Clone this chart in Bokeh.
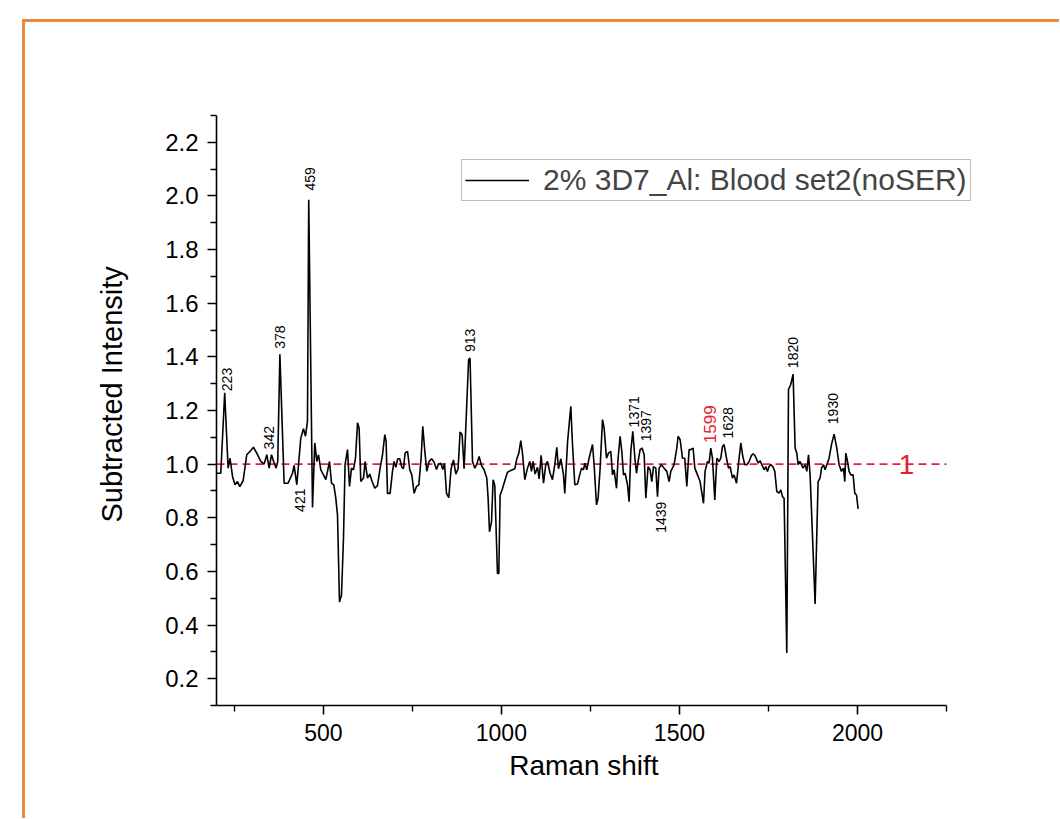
from bokeh.plotting import figure
from bokeh.models import (Legend, LegendItem, Label, FixedTicker,
                          PrintfTickFormatter, ColumnDataSource, Range1d)
from bokeh.layouts import column
from bokeh.embed import file_html
from bokeh.resources import INLINE
from bokeh.core.properties import value
import math

# ---------------- data ----------------
raman_shift = [200, 212, 223, 232.6, 238, 245, 252, 259, 265.4, 274.7, 285, 294.4, 303.9,
               313, 324.4, 333.7, 341.3, 347.8, 354.4, 361.8, 367.4, 372, 378, 389.9, 401,
               413.4, 418, 425.5, 436.7, 444.3, 449.9, 455.5, 459, 469.6, 476, 481.7, 486.4,
               492.9, 500.5, 507, 512.6, 517.3, 523, 529.4, 535, 539.8, 545.4, 551, 556.6,
               561, 567.9, 573.5, 579.1, 584.7, 590.3, 596, 600.5, 605.2, 612.8, 617.3, 624,
               630.5, 637, 644.5, 652, 659.5, 666.2, 672.6, 676.3, 680.2, 687.5, 694.2, 698.7,
               703.5, 709, 714.7, 720.4, 725, 729.6, 736.4, 742.8, 748.5, 755, 761.6, 768.2,
               774.6, 779.3, 785, 790.6, 797, 803.8, 811, 817.8, 823.4, 830, 835.5, 840.3,
               845.9, 852.3, 858.8, 865.5, 872, 878.5, 884, 889.7, 895.3, 908, 912, 918.9,
               925.4, 931, 937.4, 944.2, 951.5, 959, 962.8, 966.6, 972.3, 976.8, 981.5, 986.3,
               989, 992.8, 996.5, 1003, 1010.5, 1017, 1024.5, 1031, 1037.7, 1043.3, 1049,
               1054.5, 1059.3, 1065.8, 1073.3, 1079.8, 1084.6, 1089, 1094.7, 1101.4, 1106,
               1111.6, 1118.3, 1124.7, 1129.5, 1136.8, 1143.5, 1150, 1155.6, 1160.4, 1166.9,
               1174.4, 1178, 1186, 1195, 1199.7, 1206.2, 1213.8, 1220, 1225, 1230.6, 1234.3,
               1239.9, 1246.3, 1255.9, 1260.4, 1267.1, 1271.6, 1277.3, 1284, 1288.5, 1295.2,
               1300.8, 1307.3, 1312, 1316.5, 1323.3, 1327.8, 1333.4, 1338.2, 1342.9, 1347.5,
               1354.2, 1358.7, 1363.5, 1369, 1375, 1379.5, 1384, 1389.6, 1395, 1401, 1405.6,
               1412, 1417.6, 1422.4, 1427.2, 1433.6, 1438.4, 1443, 1449.6, 1457, 1464.5, 1471,
               1475.8, 1485, 1492.6, 1496.3, 1502, 1508.6, 1515, 1520.7, 1527.2, 1532, 1538.4,
               1543.2, 1550.8, 1558, 1567.6, 1572, 1578.8, 1583.3, 1588, 1592.8, 1599.3, 1605,
               1611.4, 1616.2, 1621, 1625.5, 1632.2, 1637.8, 1642.3, 1649, 1653.6, 1660.3,
               1667.6, 1672.4, 1678, 1683.6, 1689.2, 1695.7, 1702.4, 1707, 1711.7, 1717.3, 1721,
               1726.5, 1731.3, 1737.8, 1742.5, 1747.3, 1751.8, 1756.6, 1762.2, 1767.8, 1773.4,
               1779.9, 1784.6, 1789.4, 1793.9, 1801.5, 1806.3, 1812.7, 1819.2, 1824.9, 1829.6,
               1833.3, 1838, 1842.8, 1847.3, 1853, 1857.7, 1862.5, 1867, 1881, 1889.4, 1895,
               1899, 1904.6, 1909, 1913.9, 1920.3, 1927, 1934.4, 1941.9, 1948.4, 1955, 1960.7,
               1964.4, 1967.2, 1972, 1976.5, 1981.3, 1987.7, 1992.5, 1997.3, 2001.8]
intensity = [0.966, 0.966, 1.266, 0.985, 1.022, 0.954, 0.923, 0.935, 0.916, 0.938, 1.035, 1.048,
             1.063, 1.041, 1.010, 1.000, 1.035, 0.985, 1.035, 1.004, 0.985, 1.010, 1.410, 0.929,
             0.929, 0.966, 0.995, 0.923, 1.097, 1.132, 1.104, 1.160, 1.986, 0.838, 1.079, 1.010,
             1.035, 0.979, 0.960, 0.942, 0.979, 1.010, 0.929, 0.923, 0.873, 0.810, 0.486, 0.511,
             0.723, 0.998, 1.054, 0.917, 0.985, 0.979, 1.022, 1.154, 1.135, 0.935, 0.948, 1.010,
             0.948, 0.963, 0.935, 0.910, 0.920, 0.985, 1.035, 1.110, 1.085, 0.891, 0.891, 0.973,
             1.010, 0.988, 1.020, 1.020, 0.988, 0.983, 1.041, 1.048, 0.979, 0.960, 0.891, 0.917,
             0.923, 1.022, 1.141, 1.048, 0.973, 1.010, 1.020, 1.008, 0.980, 1.000, 1.003, 0.980,
             1.003, 0.891, 0.875, 0.983, 1.016, 0.963, 0.983, 1.120, 1.110, 0.983, 1.390, 1.395,
             1.010, 0.985, 1.000, 1.029, 0.995, 0.979, 0.948, 0.873, 0.748, 0.785, 0.942, 0.920,
             0.710, 0.592, 0.592, 0.885, 0.908, 0.942, 0.970, 0.975, 0.979, 0.983, 1.020, 1.041,
             1.088, 1.041, 0.942, 0.985, 1.010, 0.973, 1.010, 0.963, 0.988, 0.945, 1.033, 0.929,
             0.998, 1.010, 0.966, 0.942, 0.998, 1.063, 0.983, 1.020, 0.960, 0.891, 1.085, 1.216,
             1.073, 0.923, 0.926, 0.960, 0.985, 0.979, 1.004, 0.979, 1.022, 1.073, 0.998, 0.848,
             0.873, 0.985, 1.166, 1.135, 1.022, 1.041, 1.048, 0.960, 0.979, 0.910, 1.022, 1.104,
             1.048, 0.960, 0.966, 0.923, 0.860, 1.048, 1.122, 1.022, 0.966, 1.010, 1.054, 1.060,
             1.035, 0.873, 0.991, 0.979, 0.935, 0.991, 0.985, 0.879, 0.985, 0.998, 0.985, 0.973,
             0.935, 0.973, 0.998, 1.060, 1.104, 1.091, 1.022, 1.022, 0.917, 1.054, 1.054, 1.060,
             0.985, 0.960, 0.935, 0.854, 0.973, 1.010, 1.004, 1.060, 1.022, 0.866, 1.022, 1.010,
             1.022, 1.066, 1.073, 1.022, 0.985, 0.991, 0.948, 0.960, 0.929, 1.022, 1.079, 1.029,
             0.998, 0.998, 1.010, 1.033, 1.038, 1.033, 1.016, 1.004, 1.013, 0.998, 0.979, 0.991,
             0.973, 0.991, 0.998, 0.991, 0.973, 0.898, 0.892, 0.904, 0.879, 0.873, 0.296, 1.279,
             1.297, 1.335, 1.060, 1.041, 0.998, 1.010, 0.998, 0.985, 0.998, 0.973, 1.035, 0.960,
             0.479, 0.935, 0.948, 0.985, 0.998, 0.979, 0.998, 1.022, 1.073, 1.112, 1.060, 0.998,
             0.973, 0.985, 0.935, 1.041, 1.010, 0.973, 0.960, 0.960, 0.891, 0.885, 0.833]

series_name = "2% 3D7_Al: Blood set2(noSER)"
reference_level = 1.0
x_axis_limits = [200, 2250]
y_axis_limits = [0.1, 2.3]

# peak annotations (text, x position, y where text starts)
above_labels = ["223", "342", "378", "459", "913", "1371", "1397", "1628", "1820", "1930"]
above_x = [230.3, 346.9, 377.8, 462.0, 912.7, 1372.0, 1405.6, 1637.0, 1818.3, 1932.0]
above_y = [1.272, 1.055, 1.430, 2.020, 1.418, 1.137, 1.085, 1.096, 1.358, 1.149]
below_labels = ["421", "1439"]
below_x = [435.3, 1449.0]
below_y = [0.909, 0.860]
red_label = ["1599"]
red_x = [1586.7]
red_y = [1.078]
level_label = "1"
level_label_x = 2138

x_major = [500, 1000, 1500, 2000]
x_minor = [250, 750, 1250, 1750, 2250]
y_major = [0.2, 0.4, 0.6, 0.8, 1.0, 1.2, 1.4, 1.6, 1.8, 2.0, 2.2]
y_minor = [0.1, 0.3, 0.5, 0.7, 0.9, 1.1, 1.3, 1.5, 1.7, 1.9, 2.1, 2.3]

# ---------------- figure ----------------
FONT = "Liberation Sans"
RED = "#E8202C"

W, H = 1034, 796
BL, BR, BT, BB = 191, 77, 93, 113
frame_w = W - BL - BR
axis_px = 730.0                       # pixels covered by the x axis
x_end = x_axis_limits[0] + frame_w * (x_axis_limits[1] - x_axis_limits[0]) / axis_px

p = figure(width=W, height=H, output_backend="svg", toolbar_location=None,
           x_range=Range1d(x_axis_limits[0], x_end),
           y_range=Range1d(*y_axis_limits),
           min_border_left=BL, min_border_right=BR, min_border_top=BT,
           min_border_bottom=BB)
p.outline_line_color = None
p.xgrid.visible = False
p.ygrid.visible = False
p.background_fill_color = "white"
p.border_fill_color = "white"

for ax in (p.xaxis[0], p.yaxis[0]):
    ax.axis_line_width = 1.6
    ax.major_tick_line_width = 1.6
    ax.minor_tick_line_width = 1.4
    ax.major_tick_in = 0
    ax.major_tick_out = 9
    ax.minor_tick_in = 0
    ax.minor_tick_out = 6
    ax.major_label_text_color = "black"
    ax.axis_label_text_color = "black"
    ax.axis_label_text_font_style = "normal"

p.xaxis.bounds = tuple(x_axis_limits)
p.xaxis.ticker = FixedTicker(ticks=x_major, minor_ticks=x_minor)
p.yaxis.ticker = FixedTicker(ticks=y_major, minor_ticks=y_minor)
p.yaxis.formatter = PrintfTickFormatter(format="%.1f")

NB = "\u00a0"
p.xaxis.axis_label = "Raman shift" + NB * 4
p.xaxis.axis_label_text_font = FONT
p.xaxis.axis_label_text_font_size = "28px"
p.xaxis.major_label_text_font = FONT
p.xaxis.major_label_text_font_size = "23px"
p.xaxis.major_label_standoff = 9
p.xaxis.axis_label_standoff = 6

p.yaxis.axis_label = NB * 4 + "Subtracted Intensity"
p.yaxis.axis_label_text_font = FONT
p.yaxis.axis_label_text_font_size = "29px"
p.yaxis.major_label_text_font = FONT
p.yaxis.major_label_text_font_size = "24px"
p.yaxis.major_label_standoff = 9
p.yaxis.axis_label_standoff = 34

# reference dashed line at 1 (spans the x axis)
p.segment(x0=[x_axis_limits[0]], x1=[x_axis_limits[1]],
          y0=[reference_level], y1=[reference_level],
          line_color=RED, line_dash="8 5", line_width=1.6)

src = ColumnDataSource(data=dict(x=raman_shift, y=intensity))
r = p.line("x", "y", source=src, line_color="black", line_width=1.6)

# annotations
p.text(x=above_x, y=above_y, text=above_labels, angle=math.pi / 2,
       text_align="left", text_baseline="middle", text_font=value(FONT),
       text_font_size="14px", text_color="black")
p.text(x=below_x, y=below_y, text=below_labels, angle=math.pi / 2,
       text_align="right", text_baseline="middle", text_font=value(FONT),
       text_font_size="14px", text_color="black")
p.text(x=red_x, y=red_y, text=red_label, angle=math.pi / 2,
       text_align="left", text_baseline="middle", text_font=value(FONT),
       text_font_size="17px", text_color=RED)
p.add_layout(Label(x=level_label_x, y=reference_level, text=level_label,
                   text_align="center", text_baseline="middle", text_font=FONT,
                   text_font_size="28px", text_color=RED))

legend = Legend(items=[LegendItem(label=series_name, renderers=[r])],
                location=(245, 504), padding=3, margin=0, spacing=0,
                glyph_width=64, label_standoff=14,
                label_text_font=FONT, label_text_font_size="30px",
                border_line_color="#7a7a7a", border_line_width=1.5,
                background_fill_alpha=1.0)
p.add_layout(legend)

root = column(p, margin=(19, 0, 0, 22),
              styles={"border-top": "3px solid #EF8A3D",
                      "border-left": "3px solid #EF8A3D"})

open("out.html", "w").write(file_html(root, INLINE))
